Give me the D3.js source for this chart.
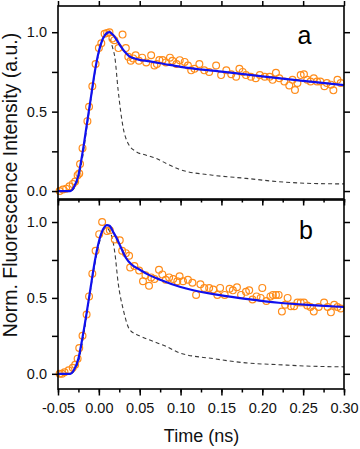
<!DOCTYPE html>
<html>
<head>
<meta charset="utf-8">
<script src="https://cdn.jsdelivr.net/npm/d3@7"></script>
<style>
  body { margin: 0; background: #fff; }
  svg { display: block; font-family: "Liberation Sans", Arial, sans-serif; }
</style>
</head>
<body>
<div id="chart"></div>
<script>
// ---- data: panel a ----
const dataTimeA = [-0.048,-0.044,-0.040,-0.036,-0.032,-0.029,-0.026,-0.024,-0.023,-0.020,-0.014,-0.012,-0.008,-0.004,0.000,0.003,0.007,0.010,0.013,0.0165,0.019,0.024,0.029,0.033,0.036,0.039,0.042,0.045,0.049,0.053,0.058,0.064,0.068,0.071,0.074,0.078,0.082,0.087,0.090,0.095,0.099,0.105,0.109,0.113,0.117,0.123,0.129,0.135,0.1435,0.1496,0.156,0.162,0.168,0.172,0.176,0.180,0.186,0.192,0.197,0.203,0.209,0.2126,0.2167,0.2208,0.227,0.233,0.237,0.240,0.243,0.247,0.251,0.255,0.259,0.263,0.267,0.271,0.276,0.279,0.284,0.287,0.292,0.296];
const dataValA  = [0.00,0.01,0.015,0.03,0.045,0.06,0.10,0.11,0.17,0.27,0.44,0.53,0.66,0.80,0.90,0.93,0.99,0.995,1.0,0.96,0.95,0.90,0.985,0.90,0.845,0.82,0.835,0.855,0.82,0.84,0.81,0.855,0.79,0.80,0.825,0.825,0.81,0.84,0.82,0.80,0.824,0.813,0.79,0.76,0.77,0.80,0.76,0.75,0.79,0.73,0.76,0.735,0.72,0.77,0.75,0.73,0.72,0.71,0.73,0.72,0.72,0.70,0.745,0.71,0.69,0.665,0.70,0.636,0.68,0.73,0.735,0.70,0.69,0.71,0.69,0.69,0.66,0.68,0.67,0.634,0.70,0.68];
const fitTimeA = [-0.05,-0.035,-0.03,-0.025,-0.02,-0.015,-0.01,-0.005,0,0.005,0.01,0.013,0.017,0.022,0.027,0.032,0.037,0.042,0.05,0.06,0.08,0.10,0.15,0.20,0.25,0.30];
const fitValA  = [0,0,0.03,0.10,0.24,0.41,0.58,0.75,0.88,0.96,0.995,1.0,0.985,0.95,0.91,0.875,0.85,0.837,0.826,0.818,0.80,0.782,0.752,0.722,0.694,0.667];
const irfTimeA = [-0.05,-0.035,-0.03,-0.025,-0.02,-0.015,-0.01,-0.005,0,0.005,0.009,0.013,0.017,0.0195,0.0236,0.0297,0.0358,0.046,0.058,0.0703,0.0825,0.0988,0.139,0.18,0.22,0.26,0.30];
const irfValA  = [0,0,0.02,0.08,0.21,0.39,0.57,0.74,0.87,0.96,0.99,0.96,0.90,0.845,0.635,0.40,0.30,0.247,0.226,0.205,0.174,0.136,0.10,0.08,0.059,0.048,0.045];

// ---- data: panel b ----
const dataTimeB = [-0.048,-0.045,-0.042,-0.037,-0.032,-0.029,-0.026,-0.024,-0.020,-0.015,-0.012,-0.008,-0.004,0.0004,0.004,0.010,0.0134,0.0195,0.0256,0.0285,0.033,0.037,0.0383,0.0435,0.0493,0.054,0.057,0.0614,0.064,0.068,0.0736,0.0777,0.0818,0.086,0.091,0.096,0.0988,0.103,0.109,0.1145,0.119,0.1243,0.129,0.135,0.14,0.145,0.1484,0.154,0.16,0.164,0.169,0.174,0.18,0.184,0.188,0.193,0.198,0.20,0.205,0.21,0.213,0.2167,0.22,0.224,0.228,0.231,0.235,0.239,0.243,0.247,0.251,0.255,0.259,0.263,0.269,0.2756,0.28,0.284,0.288,0.292,0.296];
const dataValB  = [0.00,0.00,0.01,0.024,0.04,0.06,0.10,0.17,0.25,0.39,0.51,0.66,0.81,0.92,1.0,0.94,0.945,0.885,0.88,0.81,0.795,0.778,0.70,0.71,0.68,0.61,0.65,0.58,0.635,0.625,0.686,0.655,0.62,0.635,0.625,0.61,0.642,0.61,0.62,0.60,0.52,0.59,0.565,0.565,0.555,0.52,0.566,0.52,0.56,0.55,0.57,0.52,0.54,0.55,0.49,0.51,0.50,0.566,0.48,0.51,0.52,0.52,0.52,0.41,0.455,0.50,0.445,0.445,0.47,0.47,0.47,0.45,0.44,0.41,0.44,0.47,0.44,0.405,0.455,0.44,0.43];
const fitTimeB = [-0.05,-0.035,-0.03,-0.025,-0.02,-0.015,-0.01,-0.005,0,0.005,0.01,0.013,0.018,0.023,0.028,0.033,0.04,0.05,0.06,0.075,0.10,0.14,0.18,0.22,0.26,0.30];
const fitValB  = [0,0,0.03,0.10,0.24,0.40,0.57,0.74,0.87,0.95,0.98,0.975,0.93,0.88,0.82,0.765,0.72,0.686,0.655,0.62,0.572,0.525,0.494,0.468,0.452,0.44];
const irfTimeB = [-0.05,-0.035,-0.03,-0.025,-0.02,-0.015,-0.01,-0.005,0,0.005,0.009,0.013,0.017,0.0195,0.0236,0.03,0.0378,0.05,0.066,0.0825,0.0988,0.14,0.18,0.22,0.26,0.30];
const irfValB  = [0,0,0.02,0.08,0.21,0.38,0.56,0.72,0.85,0.94,0.965,0.94,0.88,0.80,0.60,0.42,0.29,0.25,0.215,0.18,0.138,0.10,0.072,0.06,0.05,0.046];

// ---- tick labels ----
const xTickVals = [-0.05, 0.00, 0.05, 0.10, 0.15, 0.20, 0.25, 0.30];
const yTickVals = [0, 0.5, 1.0];
const yTickAll  = [0, 0.25, 0.5, 0.75, 1.0];

const W = 360, H = 449;
const left = 58, right = 344;

const svg = d3.select("#chart").append("svg")
  .attr("width", W)
  .attr("height", H);

const x = d3.scaleLinear().domain([-0.05, 0.30]).range([left, right]);

const xMinor = d3.range(-0.05, 0.3001, 0.025);
// plain hyphen for negatives, like the original
const fmtX = d => d3.format(".2f")(d).replace("−", "-");

const panels = [
  { id: "a", top: 6, bottom: 199, domain: [-0.05, 1.165],
    dt: dataTimeA, dv: dataValA, ft: fitTimeA, fv: fitValA, it: irfTimeA, iv: irfValA, labelX: 304.5, labelY: 44 },
  { id: "b", top: 200, bottom: 389, domain: [-0.1, 1.145],
    dt: dataTimeB, dv: dataValB, ft: fitTimeB, fv: fitValB, it: irfTimeB, iv: irfValB, labelX: 306, labelY: 239 }
];

panels.forEach((p, pi) => {
  const y = d3.scaleLinear().domain(p.domain).range([p.bottom, p.top]);
  const g = svg.append("g");

  const line = d3.line()
    .x(d => x(d[0]))
    .y(d => y(d[1]))
    .curve(d3.curveMonotoneX);

  // IRF dashed
  g.append("path")
    .datum(p.it.map((t, i) => [t, p.iv[i]]))
    .attr("d", line)
    .attr("fill", "none")
    .attr("stroke", "#3a3a3a")
    .attr("stroke-width", 1.1)
    .attr("stroke-dasharray", "4,3");

  // data circles
  g.selectAll("circle")
    .data(p.dt.map((t, i) => [t, p.dv[i]]))
    .enter().append("circle")
    .attr("cx", d => x(d[0]))
    .attr("cy", d => y(d[1]))
    .attr("r", 3.4)
    .attr("fill", "none")
    .attr("stroke", "#ff8c1a")
    .attr("stroke-width", 1.2);

  // fit
  g.append("path")
    .datum(p.ft.map((t, i) => [t, p.fv[i]]))
    .attr("d", line)
    .attr("fill", "none")
    .attr("stroke", "#1010ee")
    .attr("stroke-width", 2.2);

  // left axis
  const yl = svg.append("g")
    .attr("transform", `translate(${left},0)`)
    .call(d3.axisLeft(y).tickValues(yTickAll).tickSize(6).tickPadding(5)
      .tickFormat(d => yTickVals.includes(d) ? d3.format(".1f")(d) : ""));
  // right axis
  const yr = svg.append("g")
    .attr("transform", `translate(${right},0)`)
    .call(d3.axisRight(y).tickValues(yTickAll).tickSize(6).tickFormat(""));

  [yl, yr].forEach(a => {
    a.select(".domain").remove();
    a.selectAll("line").attr("stroke", "#000").attr("stroke-width", 1.5);
    a.selectAll("text").attr("font-size", 14.5).attr("fill", "#111")
      .attr("font-family", "'Liberation Sans', Arial, sans-serif");
  });

  // bottom axis (major + minor)
  const xb = svg.append("g").attr("transform", `translate(0,${p.bottom})`);
  xb.call(d3.axisBottom(x).tickValues(xMinor).tickSize(3.5).tickFormat(""));
  const xbMaj = svg.append("g").attr("transform", `translate(0,${p.bottom})`)
    .call(d3.axisBottom(x).tickValues(xTickVals).tickSize(6.5).tickPadding(7)
      .tickFormat(pi === 1 ? fmtX : ""));
  // top axis (major only)
  const xt = svg.append("g").attr("transform", `translate(0,${p.top})`)
    .call(d3.axisTop(x).tickValues(xTickVals).tickSize(pi === 0 ? 5 : 0).tickFormat(""));

  [xb, xbMaj, xt].forEach(a => {
    a.select(".domain").remove();
    a.selectAll("line").attr("stroke", "#000").attr("stroke-width", 1.5);
    a.selectAll("text").attr("font-size", 14.5).attr("fill", "#111")
      .attr("font-family", "'Liberation Sans', Arial, sans-serif");
  });

  // frame
  svg.append("rect")
    .attr("x", left).attr("y", p.top)
    .attr("width", right - left).attr("height", p.bottom - p.top)
    .attr("fill", "none").attr("stroke", "#000").attr("stroke-width", 1.6);

  // panel letter
  svg.append("text")
    .attr("x", p.labelX).attr("y", p.labelY)
    .attr("text-anchor", "middle")
    .attr("font-size", 25)
    .attr("fill", "#000")
    .text(p.id);
});

// axis titles
svg.append("text")
  .attr("x", (left + right) / 2 + 0.5)
  .attr("y", 442)
  .attr("text-anchor", "middle")
  .attr("font-size", 18)
  .attr("fill", "#111")
  .text("Time (ns)");

svg.append("text")
  .attr("transform", "translate(17,185) rotate(-90)")
  .attr("text-anchor", "middle")
  .attr("font-size", 19.5)
  .attr("fill", "#111")
  .text("Norm. Fluorescence Intensity (a.u.)");
</script>
</body>
</html>
